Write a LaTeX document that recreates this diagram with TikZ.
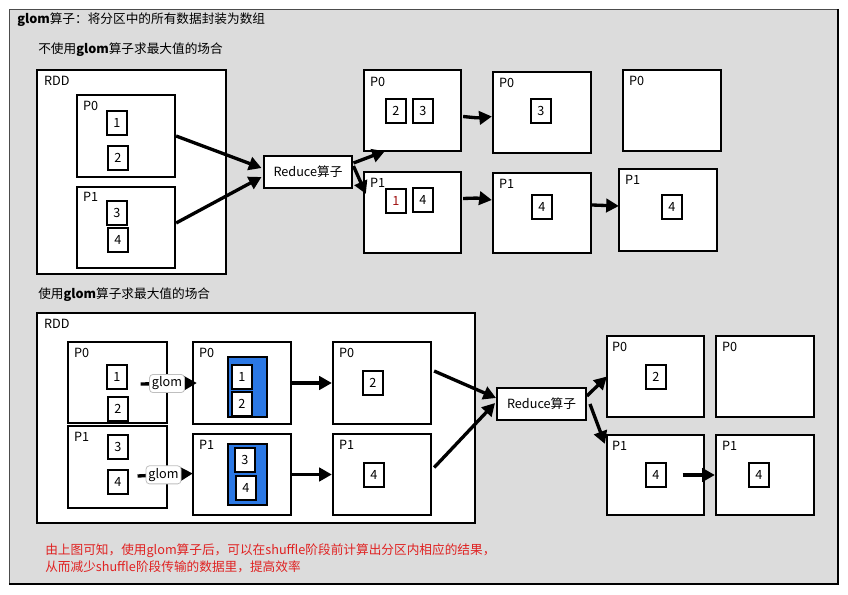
\documentclass[tikz,border=0pt]{standalone}
\usepackage{fontspec}
\setmainfont{Noto Sans CJK SC}
\usetikzlibrary{arrows.meta,fit,calc}
\definecolor{bg}{HTML}{DCDCDC}
\definecolor{blk}{HTML}{2B78E4}
\definecolor{note}{HTML}{E02222}
\definecolor{darkred}{HTML}{A01010}
\begin{document}
\begin{tikzpicture}[x=0.75pt,y=-0.75pt,
  part/.style={draw, line width=1.7pt, fill=white, inner sep=0pt},
  item/.style={draw, line width=1.3pt, fill=white, minimum width=14.5pt, minimum height=18pt, inner sep=0pt, font=\fontsize{9.5}{10}\selectfont},
  lbl/.style={anchor=west, inner sep=0pt, font=\fontsize{9.5}{11}\selectfont},
  arr/.style={line width=2.5pt, -{Triangle[length=9.5pt,width=10pt]}},
  glomlbl/.style={draw=gray!50, fill=white, rounded corners=2.5pt, line width=0.6pt, inner sep=1.8pt, font=\fontsize{9.5}{10}\selectfont},
  op/.style={draw, line width=1.7pt, fill=white, minimum width=66.5pt, minimum height=24pt, inner sep=2pt, font=\fontsize{9.5}{11}\selectfont},
  blue/.style={fill=blk, draw=black, line width=0.8pt, inner sep=0pt},
  txt/.style={anchor=west, inner sep=0pt, font=\fontsize{9.5}{11}\selectfont}
]
\useasboundingbox (0,0) rectangle (848,595);
\fill[white] (0,0) rectangle (848,595);
% frame
\fill[bg] (9,9) rectangle (838,584);
\draw[line width=0.6pt, gray!60!black] (9,584) -- (9,9) -- (838,9);
\draw[line width=1.8pt] (838,9) -- (838,584) -- (9,584);

\node[txt] (title) at (17,20) {\textbf{glom}算子：将分区中的所有数据封装为数组};
\node[txt] (sub1) at (38,50) {不使用\textbf{glom}算子求最大值的场合};
\node[txt] (sub2) at (38,295) {使用\textbf{glom}算子求最大值的场合};

% ---------- top ----------
\node[part, fit={(37,70)(226,274)}] (trdd) {};
\node[lbl] at ($(trdd.north west)+(8,12)$) {RDD};
\node[part, fit={(77,95)(175,177)}] (tp0) {};
\node[lbl] at ($(tp0.north west)+(7,12)$) {P0};
\node[part, fit={(77,187)(175,268)}] (tp1) {};
\node[lbl] at ($(tp1.north west)+(7,11)$) {P1};
\node[item] (t1) at (117,123) {1};
\node[item] (t2) at (118,158) {2};
\node[item] (t3) at (117,213) {3};
\node[item] (t4) at (118,240) {4};

\node[op] (tred) at (308,172) {Reduce算子};

\node[part, fit={(364,70)(461,151)}] (ta0) {};
\node[lbl] at ($(ta0.north west)+(7,13)$) {P0};
\node[part, fit={(493,72)(591,153)}] (tb0) {};
\node[lbl] at ($(tb0.north west)+(7,12)$) {P0};
\node[part, fit={(623,70)(721,151)}] (tc0) {};
\node[lbl] at ($(tc0.north west)+(7,12)$) {P0};
\node[part, fit={(364,172)(461,253)}] (ta1) {};
\node[lbl] at ($(ta1.north west)+(7,12)$) {P1};
\node[part, fit={(493,173)(591,253)}] (tb1) {};
\node[lbl] at ($(tb1.north west)+(7,12)$) {P1};
\node[part, fit={(619,169)(717,251)}] (tc1) {};
\node[lbl] at ($(tc1.north west)+(7,12)$) {P1};

\node[item] (ta02) at (396,111) {2};
\node[item] (ta03) at (423,111) {3};
\node[item] (tb03) at (541,111) {3};
\node[item, text=darkred] (ta11) at (396,201) {1};
\node[item] (ta14) at (423,200) {4};
\node[item] (tb14) at (542,207) {4};
\node[item] (tc14) at (672,207) {4};

\draw[arr] ($(tp0.east)+(0,0)$) -- ($(tred.west)+(-1,-4)$);
\draw[arr] ($(tp1.east)+(0,-4.5)$) -- ($(tred.west)+(-1,5)$);
\draw[arr] ($(tred.east)+(0,-9)$) -- ($(ta0.south west)+(22,-1)$);
\draw[arr] ($(tred.east)+(0,-6)$) -- ($(ta1.north west)+(3,23)$);
\draw[arr] ($(ta0.east)+(1,6)$) .. controls (478,118) .. ($(tb0.west)+(0,4)$);
\draw[arr] ($(ta1.east)+(1,-14)$) .. controls (478,198) .. ($(tb1.west)+(0,-13)$);
\draw[arr] ($(tb1.east)+(0,-8)$) -- ($(tc1.west)+(1,-4)$);

% ---------- bottom ----------
\node[part, fit={(37,313)(475,523)}] (brdd) {};
\node[lbl] at ($(brdd.north west)+(8,12)$) {RDD};
\node[part, fit={(68,342)(167,423)}] (bp0) {};
\node[lbl] at ($(bp0.north west)+(7,12)$) {P0};
\node[part, fit={(68,426)(167,508)}] (bp1) {};
\node[lbl] at ($(bp1.north west)+(7,12)$) {P1};
\node[item] (b1) at (117,377) {1};
\node[item] (b2) at (118,409) {2};
\node[item] (b3) at (118,447) {3};
\node[item] (b4) at (118,482) {4};

\node[part, fit={(193,342)(291,424)}] (bm0) {};
\node[lbl] at ($(bm0.north west)+(7,12)$) {P0};
\node[part, fit={(193,434)(291,515)}] (bm1) {};
\node[lbl] at ($(bm1.north west)+(7,12)$) {P1};
\node[blue, fit={(228,357)(267,417)}] (g0) {};
\node[blue, fit={(228,444)(267,505)}] (g1) {};
\node[item] (bm01) at (242,377) {1};
\node[item] (bm02) at (242,404) {2};
\node[item] (bm13) at (245,460) {3};
\node[item] (bm14) at (246,488) {4};

\node[part, fit={(333,342)(431,424)}] (br0) {};
\node[lbl] at ($(br0.north west)+(7,12)$) {P0};
\node[part, fit={(333,434)(431,515)}] (br1) {};
\node[lbl] at ($(br1.north west)+(7,12)$) {P1};
\node[item] (br02) at (373,383) {2};
\node[item] (br14) at (374,475) {4};

\node[op] (bred) at (541.5,404) {Reduce算子};

\node[part, fit={(607,336)(704,417)}] (bs0) {};
\node[lbl] at ($(bs0.north west)+(6,12)$) {P0};
\node[part, fit={(716,336)(814,417)}] (bt0) {};
\node[lbl] at ($(bt0.north west)+(7,12)$) {P0};
\node[part, fit={(607,435)(704,515)}] (bs1) {};
\node[lbl] at ($(bs1.north west)+(6,12)$) {P1};
\node[part, fit={(716,435)(814,515)}] (bt1) {};
\node[lbl] at ($(bt1.north west)+(7,12)$) {P1};
\node[item] (bs02) at (656,377) {2};
\node[item] (bs14) at (656,475) {4};
\node[item] (bt14) at (759,475) {4};

\coordinate (gs0) at ($(b1.east)+(13,7)$);
\coordinate (gs1) at ($(b4.east)+(9,-6)$);
\draw[arr] (gs0) -- node[glomlbl, pos=0.47] (gl0) {glom} ($(bm0.west)+(5,0)$);
\draw[arr] (gs1) -- node[glomlbl, pos=0.47] (gl1) {glom} ($(bm1.west)+(1,-1)$);
\draw[arr] (bm0.east) -- (br0.west);
\draw[arr] (bm1.east) -- (br1.west);
\draw[arr] ($(br0.east)+(2,-12)$) -- ($(bred.west)+(0,-6)$);
\draw[arr] ($(br1.east)+(2,-7)$) -- ($(bred.west)+(-1,-1)$);
\draw[arr] ($(bred.east)+(0,-8)$) -- ($(bs0.west)+(1,0)$);
\draw[arr] ($(bred.east)+(3,0)$) -- ($(bs1.north west)+(-1,10)$);
\coordinate (gs2) at ($(bs14.east)+(16,0)$);
\draw[arr] (gs2) -- (bt1.west);

\node[anchor=north west, inner sep=0pt, align=left, text=note, font=\fontsize{9.5}{12.75}\selectfont] (note) at (45,543)
 {由上图可知，使用glom算子后，可以在shuffle阶段前计算出分区内相应的结果，\\从而减少shuffle阶段传输的数据里，提高效率};
\end{tikzpicture}
\end{document}
